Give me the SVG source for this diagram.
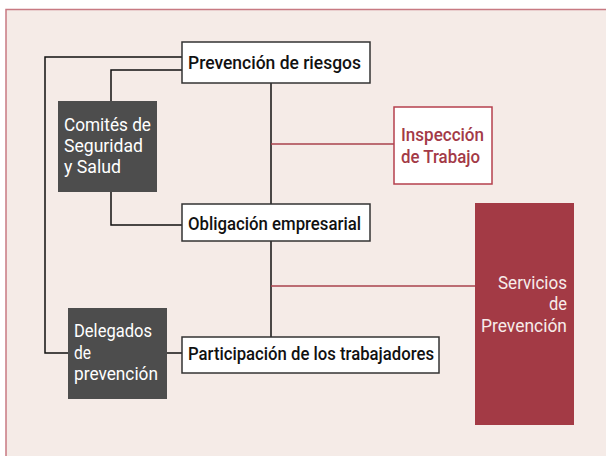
<svg xmlns="http://www.w3.org/2000/svg" width="606" height="456" viewBox="0 0 606 456">
<style>
.t{font-family:Roboto,"Liberation Sans",Arial,sans-serif;font-size:18px}
.b{font-weight:500;fill:#111;font-size:18.5px}
.w{fill:#ffffff}
.r{fill:#a33a47;font-weight:500}
.s{fill:#f7ecea}
.box{fill:#ffffff;stroke:#333;stroke-width:1.5}
.dark{fill:#4d4d4d}
.ln{fill:none;stroke:#111;stroke-width:1.5}
.rl{fill:none;stroke:#a8424c;stroke-width:1.3}
</style>
<rect x="6" y="9.5" width="610" height="460" fill="#f5ebe7" stroke="#c87a82" stroke-width="1.5"/>
<g id="connectors">
<polyline class="ln" points="182,57 45,57 45,353 68,353"/>
<polyline class="ln" points="182,70 111,70 111,101"/>
<polyline class="ln" points="111,192 111,225 182,225"/>
<line class="ln" x1="271" y1="83" x2="271" y2="204"/>
<line class="ln" x1="271" y1="241" x2="271" y2="337"/>
<line class="ln" x1="167" y1="353" x2="182" y2="353"/>
<line class="rl" x1="271" y1="144" x2="394" y2="144"/>
<line class="rl" x1="271" y1="286" x2="475" y2="286"/>
</g>
<g id="prevencion">
<rect class="box" x="182" y="42" width="188" height="41"/>
<text class="t b" x="188" y="69" textLength="173" lengthAdjust="spacingAndGlyphs">Prevención de riesgos</text>
</g>
<g id="comites">
<rect class="dark" x="58" y="101" width="99" height="91"/>
<text class="t w" x="64" y="131" textLength="87" lengthAdjust="spacingAndGlyphs">Comités de</text>
<text class="t w" x="64" y="152" textLength="79" lengthAdjust="spacingAndGlyphs">Seguridad</text>
<text class="t w" x="64" y="173" textLength="57" lengthAdjust="spacingAndGlyphs">y Salud</text>
</g>
<g id="obligacion">
<rect class="box" x="182" y="204" width="188" height="37"/>
<text class="t b" x="188" y="229.5" textLength="173" lengthAdjust="spacingAndGlyphs">Obligación empresarial</text>
</g>
<g id="inspeccion">
<rect x="394" y="107" width="98" height="77" fill="#ffffff" stroke="#b5404d" stroke-width="1.5"/>
<text class="t r" x="401" y="140.5" textLength="83" lengthAdjust="spacingAndGlyphs">Inspección</text>
<text class="t r" x="401" y="162.5" textLength="79" lengthAdjust="spacingAndGlyphs">de Trabajo</text>
</g>
<g id="delegados">
<rect class="dark" x="68" y="308" width="99" height="91"/>
<text class="t w" x="74" y="337" textLength="78" lengthAdjust="spacingAndGlyphs">Delegados</text>
<text class="t w" x="74" y="358.5" textLength="17" lengthAdjust="spacingAndGlyphs">de</text>
<text class="t w" x="74" y="380" textLength="84" lengthAdjust="spacingAndGlyphs">prevención</text>
</g>
<g id="participacion">
<rect class="box" x="182" y="337" width="257" height="36"/>
<text class="t b" x="188" y="360" textLength="246" lengthAdjust="spacingAndGlyphs">Participación de los trabajadores</text>
</g>
<g id="servicios">
<rect x="475" y="203" width="99" height="222" fill="#a33a45"/>
<text class="t s" x="498" y="288.5" textLength="69" lengthAdjust="spacingAndGlyphs">Servicios</text>
<text class="t s" x="549" y="310" textLength="18" lengthAdjust="spacingAndGlyphs">de</text>
<text class="t s" x="481" y="331.5" textLength="86" lengthAdjust="spacingAndGlyphs">Prevención</text>
</g>
</svg>
